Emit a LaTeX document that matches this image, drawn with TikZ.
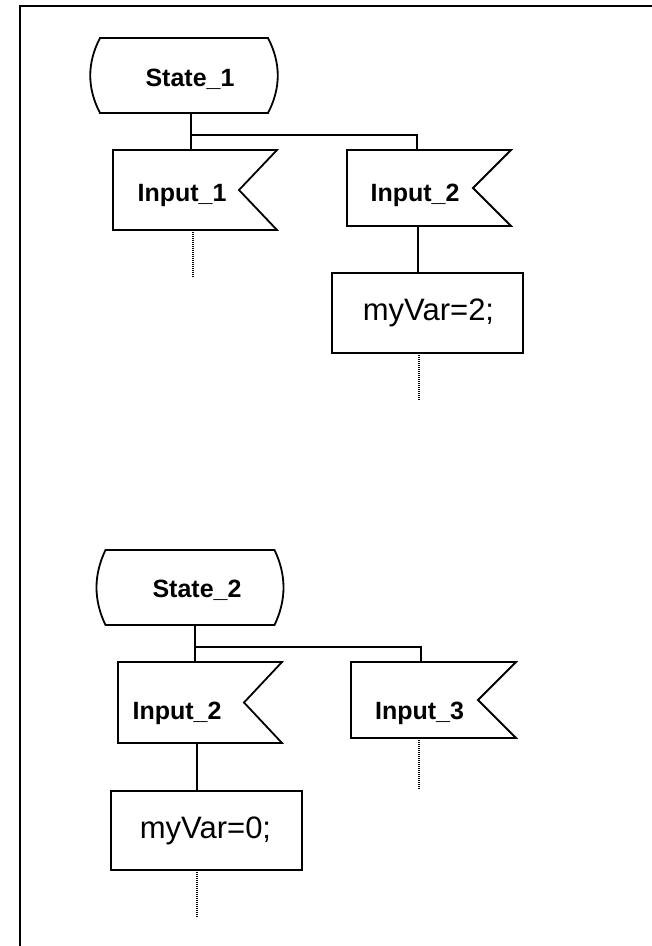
\documentclass[tikz,border=0pt]{standalone}
\usepackage{fontspec}
\setmainfont{Liberation Sans}
\begin{document}
\begin{tikzpicture}[x=1pt,y=-1pt,
  boxline/.style={line width=1.8pt, line join=miter},
  wire/.style={line width=1.6pt},
  trail/.style={line width=1.3pt, dash pattern=on 1pt off 1pt},
  frame/.style={line width=2.4pt},
  place/.style={rectangle, inner sep=0pt, outer sep=0pt, draw=none},
  actbox/.style={rectangle, inner sep=0pt, outer sep=0pt, draw, line width=1.8pt},
  lbl/.style={font=\fontsize{25}{30}\selectfont\bfseries, inner sep=0pt, anchor=base},
  actlbl/.style={font=\fontsize{31}{36}\selectfont, inner sep=0pt, anchor=base}]

\useasboundingbox (0,0) rectangle (652,946);

% page frame (top and left edges)
\coordinate (fc) at (20,6);
\draw[frame] (20,946) -- (fc) -- (652,6);

% ---------- State_1 ----------
\node[place, minimum width=168pt, minimum height=75pt] (s1) at (184,75.5) {};
\draw[boxline] (s1.north west) -- (s1.north east)
  .. controls +(13,25) and +(13,-25) .. (s1.south east)
  -- (s1.south west)
  .. controls +(-13,-25) and +(-13,25) .. (s1.north west) -- cycle;
\node[lbl] (ts1) at (190,86) {State\_1};

\node[place, minimum width=164pt, minimum height=80pt] (in1) at (195,190) {};
\draw[boxline] (in1.north west) -- (in1.north east) -- ([xshift=-38pt]in1.east)
  -- (in1.south east) -- (in1.south west) -- cycle;
\node[lbl] (ti1) at (182,201.5) {Input\_1};

\node[place, minimum width=164pt, minimum height=76pt] (in2a) at (429,188) {};
\draw[boxline] (in2a.north west) -- (in2a.north east) -- ([xshift=-38pt]in2a.east)
  -- (in2a.south east) -- (in2a.south west) -- cycle;
\node[lbl] (ti2a) at (415,201) {Input\_2};

\node[actbox, minimum width=191pt, minimum height=80pt] (act2) at (427.5,313) {};
\node[actlbl] (ta2) at (428.5,320) {myVar=2;};

\coordinate (j1) at (191,135);
\draw[wire] (j1 |- s1.south) -- (j1 |- in1.north);
\draw[wire] (j1) -| ([xshift=-12pt]in2a.north);
\draw[wire] ([xshift=-11pt]in2a.south) -- ([xshift=-11pt]in2a.south |- act2.north);

\coordinate (e1) at (193,278);
\draw[trail] (e1 |- in1.south) -- (e1);
\coordinate (e2) at (419,400);
\draw[trail] (e2 |- act2.south) -- (e2);

% ---------- State_2 ----------
\node[place, minimum width=169pt, minimum height=75pt] (s2) at (190,587.5) {};
\draw[boxline] (s2.north west) -- (s2.north east)
  .. controls +(12,25) and +(12,-25) .. (s2.south east)
  -- (s2.south west)
  .. controls +(-12,-25) and +(-12,25) .. (s2.north west) -- cycle;
\node[lbl] (ts2) at (197,597) {State\_2};

\node[place, minimum width=164pt, minimum height=81pt] (in2b) at (200,702.5) {};
\draw[boxline] (in2b.north west) -- (in2b.north east) -- ([xshift=-38pt]in2b.east)
  -- (in2b.south east) -- (in2b.south west) -- cycle;
\node[lbl] (ti2b) at (177,719) {Input\_2};

\node[place, minimum width=165pt, minimum height=76pt] (in3) at (433.5,700) {};
\draw[boxline] (in3.north west) -- (in3.north east) -- ([xshift=-38pt]in3.east)
  -- (in3.south east) -- (in3.south west) -- cycle;
\node[lbl] (ti3) at (419.5,719) {Input\_3};

\node[actbox, minimum width=191pt, minimum height=79pt] (act0) at (206.5,830.5) {};
\node[actlbl] (ta0) at (205.5,838) {myVar=0;};

\coordinate (j2) at (195,647);
\draw[wire] (j2 |- s2.south) -- (j2 |- in2b.north);
\draw[wire] (j2) -| ([xshift=-12.5pt]in3.north);
\draw[wire] ([xshift=-3pt]in2b.south) -- ([xshift=-3pt]in2b.south |- act0.north);

\coordinate (e3) at (419,789);
\draw[trail] (e3 |- in3.south) -- (e3);
\coordinate (e4) at (197,917);
\draw[trail] (e4 |- act0.south) -- (e4);

\end{tikzpicture}
\end{document}
